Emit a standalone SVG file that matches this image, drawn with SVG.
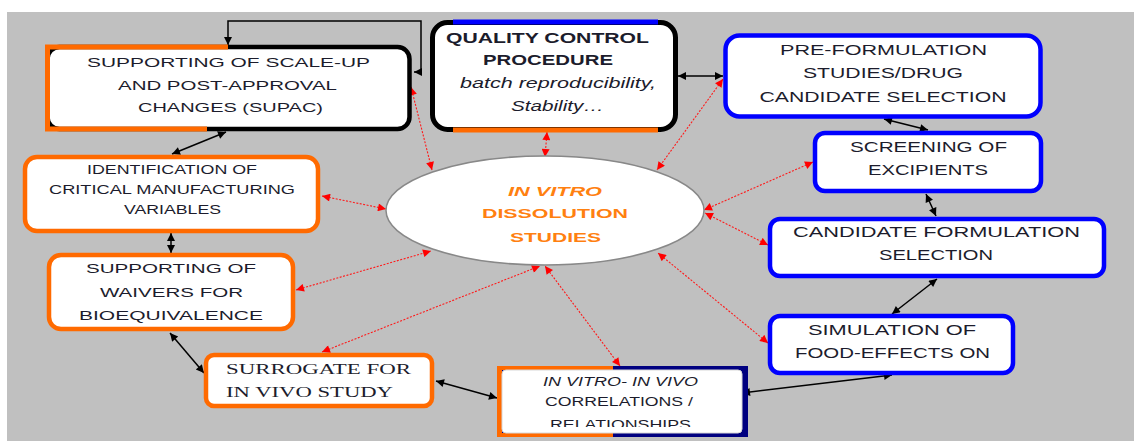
<svg xmlns="http://www.w3.org/2000/svg" width="1134" height="441" viewBox="0 0 1134 441">
<defs>
<style>
.t{font-family:"Liberation Sans",Arial,sans-serif;fill:#1c1c2c;text-anchor:middle}
.s13{font-size:13.5px}.s15{font-size:15px}.s12{font-size:12.5px}
.serif{font-family:"Liberation Serif","Times New Roman",serif;fill:#1c1c2c;font-size:14.5px}
.ob{fill:#fff;stroke:#ff6a00;stroke-width:4.5}
.bb{fill:#fff;stroke:#0000ff;stroke-width:4.5}
.blk{fill:none;stroke:#000;stroke-width:1.5}
.red{fill:none;stroke:#ff1a1a;stroke-width:1.1;stroke-dasharray:2 1.5}
.ell{font-family:"Liberation Sans",Arial,sans-serif;font-weight:bold;font-size:12.5px;fill:#ff8010;text-anchor:middle}
</style>
<marker id="ak" viewBox="0 0 10 10" refX="10" refY="5" markerWidth="10" markerHeight="8" markerUnits="userSpaceOnUse" orient="auto-start-reverse"><path d="M0,0 L10,5 L0,10 z" fill="#000"/></marker>
<marker id="ar" viewBox="0 0 10 10" refX="10" refY="5" markerWidth="10" markerHeight="8" markerUnits="userSpaceOnUse" orient="auto-start-reverse"><path d="M0,0 L10,5 L0,10 z" fill="#ff0000"/></marker>
<clipPath id="ivclip"><rect x="500" y="369" width="244" height="58"/></clipPath>
</defs>
<rect x="7" y="12" width="1127" height="429" fill="#c0c0c0"/>

<g id="connectors">
<path class="blk" d="M414,72 H421 V21 H228 V45" marker-start="url(#ak)" marker-end="url(#ak)"/>
<path class="blk" d="M678,76 L723,76" marker-start="url(#ak)" marker-end="url(#ak)"/>
<path class="blk" d="M226,132 L172,154" marker-start="url(#ak)" marker-end="url(#ak)"/>
<path class="blk" d="M171,233 L171,253" marker-start="url(#ak)" marker-end="url(#ak)"/>
<path class="blk" d="M170,333 L204,373" marker-start="url(#ak)" marker-end="url(#ak)"/>
<path class="blk" d="M436,381 L497,398" marker-start="url(#ak)" marker-end="url(#ak)"/>
<path class="blk" d="M742,393 L892,375" marker-start="url(#ak)" marker-end="url(#ak)"/>
<path class="blk" d="M937,279 L892,314" marker-start="url(#ak)" marker-end="url(#ak)"/>
<path class="blk" d="M926,194 L936,216" marker-start="url(#ak)" marker-end="url(#ak)"/>
<path class="blk" d="M884,119 L928,130" marker-start="url(#ak)" marker-end="url(#ak)"/>
<path class="red" d="M411,87 L432,170" marker-start="url(#ar)" marker-end="url(#ar)"/>
<path class="red" d="M547,132 L545,157" marker-start="url(#ar)" marker-end="url(#ar)"/>
<path class="red" d="M723,79 L657,170" marker-start="url(#ar)" marker-end="url(#ar)"/>
<path class="red" d="M813,162 L704,210" marker-start="url(#ar)" marker-end="url(#ar)"/>
<path class="red" d="M768,245 L705,213" marker-start="url(#ar)" marker-end="url(#ar)"/>
<path class="red" d="M768,343 L658,253" marker-start="url(#ar)" marker-end="url(#ar)"/>
<path class="red" d="M620,366 L545,266" marker-start="url(#ar)" marker-end="url(#ar)"/>
<path class="red" d="M322,352 L540,266" marker-start="url(#ar)" marker-end="url(#ar)"/>
<path class="red" d="M296,290 L431,251" marker-start="url(#ar)" marker-end="url(#ar)"/>
<path class="red" d="M322,196 L386,209" marker-start="url(#ar)" marker-end="url(#ar)"/>
</g>

<g id="supac">
<rect x="47.5" y="47" width="362" height="82" rx="12" fill="#fff" stroke="#000" stroke-width="4.5"/>
<path d="M228,47 H47.5 V129 H207" fill="none" stroke="#ff6a00" stroke-width="5"/>
<text class="t s13" x="228.5" y="67" textLength="283" lengthAdjust="spacingAndGlyphs">SUPPORTING OF SCALE-UP</text>
<text class="t s13" x="227.5" y="90" textLength="219" lengthAdjust="spacingAndGlyphs">AND POST-APPROVAL</text>
<text class="t s13" x="230.5" y="112" textLength="185" lengthAdjust="spacingAndGlyphs">CHANGES (SUPAC)</text>
</g>

<g id="qc">
<rect x="432.5" y="22.5" width="243" height="107" rx="15" fill="#fff" stroke="#000" stroke-width="5"/>
<path d="M453,22 H658" stroke="#0000ff" stroke-width="5"/>
<path d="M453,130 H658" stroke="#ff6a00" stroke-width="5"/>
<text class="t" x="547.5" y="43" font-size="14" font-weight="bold" fill="#000" textLength="203" lengthAdjust="spacingAndGlyphs">QUALITY CONTROL</text>
<text class="t" x="548" y="65" font-size="14" font-weight="bold" fill="#000" textLength="130" lengthAdjust="spacingAndGlyphs">PROCEDURE</text>
<text class="t" x="558" y="88" font-size="14" font-style="italic" textLength="196" lengthAdjust="spacingAndGlyphs">batch reproducibility,</text>
<text class="t" x="557.5" y="111" font-size="14" font-style="italic" textLength="93" lengthAdjust="spacingAndGlyphs">Stability…</text>
</g>

<g id="preform">
<rect class="bb" x="725.5" y="35.5" width="315" height="81" rx="14"/>
<text class="t s15" x="883.5" y="55" textLength="207" lengthAdjust="spacingAndGlyphs">PRE-FORMULATION</text>
<text class="t s15" x="883" y="78" textLength="160" lengthAdjust="spacingAndGlyphs">STUDIES/DRUG</text>
<text class="t s15" x="883" y="102" textLength="247" lengthAdjust="spacingAndGlyphs">CANDIDATE SELECTION</text>
</g>

<g id="screening">
<rect class="bb" x="815" y="133" width="226" height="58" rx="10"/>
<text class="t s15" x="928.5" y="152" textLength="157" lengthAdjust="spacingAndGlyphs">SCREENING OF</text>
<text class="t s15" x="928" y="175" textLength="120" lengthAdjust="spacingAndGlyphs">EXCIPIENTS</text>
</g>

<g id="candidate">
<rect class="bb" x="770" y="219" width="334" height="57" rx="10"/>
<text class="t s15" x="936.5" y="237" textLength="287" lengthAdjust="spacingAndGlyphs">CANDIDATE FORMULATION</text>
<text class="t s15" x="936" y="260" textLength="114" lengthAdjust="spacingAndGlyphs">SELECTION</text>
</g>

<g id="simulation">
<rect class="bb" x="770" y="316" width="243" height="57" rx="10"/>
<text class="t s15" x="892" y="335" textLength="168" lengthAdjust="spacingAndGlyphs">SIMULATION OF</text>
<text class="t s15" x="892.5" y="358" textLength="195" lengthAdjust="spacingAndGlyphs">FOOD-EFFECTS ON</text>
</g>

<g id="ivivc">
<rect x="497" y="366" width="251" height="71" fill="#000080"/>
<path d="M497,366 H613 V370 H502 V433 H613 V437 H497 Z" fill="#ff6a00"/>
<rect x="502" y="370" width="240" height="63" rx="4" fill="#fff" stroke="#d8d8d8" stroke-width="1"/>
<g clip-path="url(#ivclip)">
<text class="t s12" x="620.5" y="386" font-style="italic" textLength="155" lengthAdjust="spacingAndGlyphs">IN VITRO- IN VIVO</text>
<text class="t s12" x="619" y="406" textLength="148" lengthAdjust="spacingAndGlyphs">CORRELATIONS /</text>
<text class="t s12" x="620.5" y="429" textLength="141" lengthAdjust="spacingAndGlyphs">RELATIONSHIPS</text>
</g>
</g>

<g id="surrogate">
<rect class="ob" x="206" y="355" width="226" height="51" rx="8"/>
<text class="serif" x="226" y="374" textLength="185" lengthAdjust="spacingAndGlyphs">SURROGATE FOR</text>
<text class="serif" x="226" y="397" textLength="167" lengthAdjust="spacingAndGlyphs">IN VIVO STUDY</text>
</g>

<g id="waivers">
<rect class="ob" x="49" y="255" width="244" height="74" rx="12"/>
<text class="t s13" x="171" y="273" textLength="170" lengthAdjust="spacingAndGlyphs">SUPPORTING OF</text>
<text class="t s13" x="171.5" y="297" textLength="143" lengthAdjust="spacingAndGlyphs">WAIVERS FOR</text>
<text class="t s13" x="171" y="320" textLength="184" lengthAdjust="spacingAndGlyphs">BIOEQUIVALENCE</text>
</g>

<g id="identification">
<rect class="ob" x="25" y="157" width="293" height="74" rx="12"/>
<text class="t" font-size="12" x="172" y="174" textLength="170" lengthAdjust="spacingAndGlyphs">IDENTIFICATION OF</text>
<text class="t" font-size="12" x="172" y="194" textLength="246" lengthAdjust="spacingAndGlyphs">CRITICAL MANUFACTURING</text>
<text class="t" font-size="12" x="172.5" y="214" textLength="97" lengthAdjust="spacingAndGlyphs">VARIABLES</text>
</g>

<g id="dissolution">
<ellipse cx="545" cy="210.5" rx="159" ry="54.5" fill="#fff" stroke="#888" stroke-width="1.5"/>
<text class="ell" x="555" y="196" font-style="italic" textLength="94" lengthAdjust="spacingAndGlyphs">IN VITRO</text>
<text class="ell" x="555" y="218" textLength="146" lengthAdjust="spacingAndGlyphs">DISSOLUTION</text>
<text class="ell" x="555.5" y="242" textLength="91" lengthAdjust="spacingAndGlyphs">STUDIES</text>
</g>
</svg>
